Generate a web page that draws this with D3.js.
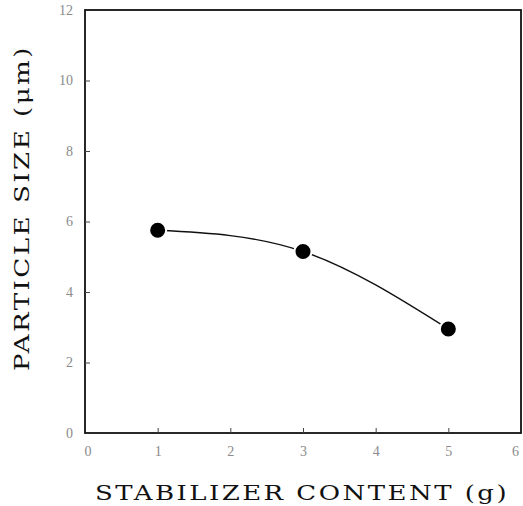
<!DOCTYPE html>
<html>
<head>
<meta charset="utf-8">
<script src="https://cdn.jsdelivr.net/npm/d3@7"></script>
<style>
  body { margin: 0; background: #fff; }
  svg { display: block; }
</style>
</head>
<body>
<svg id="chart"></svg>
<script>
// stabilizer content (g) vs particle size (um)
const stabilizer = [1, 3, 5];
const particleSize = [5.75, 5.15, 2.95];
const xTicks = [0, 1, 2, 3, 4, 5, 6];
const yTicks = [0, 2, 4, 6, 8, 10, 12];

const width = 523, height = 506;
const margin = { top: 10, right: 2, bottom: 73, left: 85 };

const svg = d3.select("#chart")
    .attr("width", width)
    .attr("height", height);

const x = d3.scaleLinear().domain([0, 6]).range([margin.left, width - margin.right]);
const y = d3.scaleLinear().domain([0, 12]).range([height - margin.bottom, margin.top]);

// frame
svg.append("rect")
    .attr("x", x(0))
    .attr("y", y(12))
    .attr("width", x(6) - x(0))
    .attr("height", y(0) - y(12))
    .attr("fill", "none")
    .attr("stroke", "#111")
    .attr("stroke-width", 1.8);

// axes with inward ticks
const xAxis = svg.append("g")
    .attr("transform", `translate(0,${y(0)})`)
    .call(d3.axisBottom(x).tickValues(xTicks).tickFormat(d3.format("d"))
        .tickSizeInner(-5).tickSizeOuter(0).tickPadding(13));
const yAxis = svg.append("g")
    .attr("transform", `translate(${x(0)},0)`)
    .call(d3.axisLeft(y).tickValues(yTicks).tickFormat(d3.format("d"))
        .tickSizeInner(-5).tickSizeOuter(0).tickPadding(12));

[xAxis, yAxis].forEach(g => {
    g.select(".domain").remove();
    g.selectAll(".tick line").attr("stroke", "#444").attr("stroke-width", 1);
    g.selectAll(".tick text")
        .attr("fill", "#8a8a8a")
        .style("font-family", "'Liberation Serif', 'DejaVu Serif', serif")
        .style("font-size", "14px");
});
xAxis.selectAll(".tick line").filter(d => d === 0 || d === 6).remove();
yAxis.selectAll(".tick line").filter(d => d === 0 || d === 12).remove();
xAxis.selectAll(".tick").filter(d => d === 0).attr("transform", `translate(${x(0) + 3},0)`);
xAxis.selectAll(".tick").filter(d => d === 6).select("text").attr("x", -6);

// fitted curve
const pts = stabilizer.map((s, i) => [x(s), y(particleSize[i])]);
const line = d3.line().curve(d3.curveNatural);
svg.append("path")
    .attr("d", line(pts))
    .attr("fill", "none")
    .attr("stroke", "#111")
    .attr("stroke-width", 1.4);

// markers
svg.append("g")
    .selectAll("circle")
    .data(stabilizer)
    .join("circle")
    .attr("cx", (d) => x(d))
    .attr("cy", (d, i) => y(particleSize[i]))
    .attr("r", 8.5)
    .attr("fill", "#000")
    .attr("stroke", "#fff")
    .attr("stroke-width", 2);

// axis titles
svg.append("text")
    .attr("x", 302)
    .attr("y", 500)
    .attr("text-anchor", "middle")
    .attr("textLength", 414)
    .attr("lengthAdjust", "spacingAndGlyphs")
    .style("font-family", "'DejaVu Serif', 'Liberation Serif', serif")
    .style("font-size", "21px")
    .style("letter-spacing", "2px")
    .attr("fill", "#111")
    .text("STABILIZER CONTENT (g)");

svg.append("text")
    .attr("transform", "translate(29,208) rotate(-90)")
    .attr("text-anchor", "middle")
    .attr("textLength", 326)
    .attr("lengthAdjust", "spacingAndGlyphs")
    .style("font-family", "'DejaVu Serif', 'Liberation Serif', serif")
    .style("font-size", "21px")
    .style("letter-spacing", "2px")
    .attr("fill", "#111")
    .text("PARTICLE SIZE (\u03bcm)");
</script>
</body>
</html>
